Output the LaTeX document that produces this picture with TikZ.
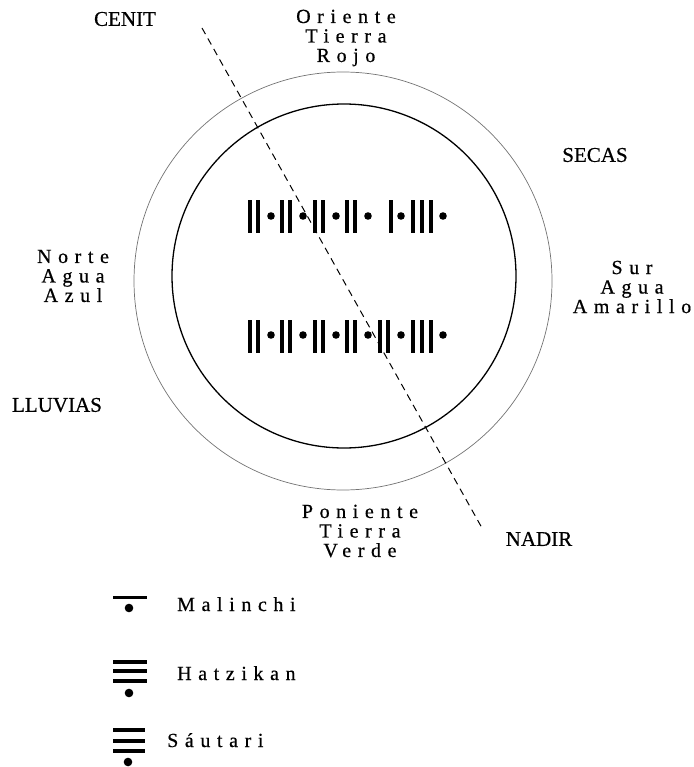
\documentclass[tikz,border=0pt]{standalone}
\usepackage{fontspec}
\setmainfont{Liberation Serif}[FakeBold=0.6]
\newfontfamily\spaced[LetterSpace=33,FakeBold=0.6]{Liberation Serif}
\begin{document}
\begin{tikzpicture}[x=1pt,y=-1pt,
  caplabel/.style={font=\fontsize{21}{22}\selectfont, inner sep=0pt},
  sptext/.style={font=\spaced\fontsize{20}{19.5}\selectfont, align=center, inner sep=0pt},
  legtext/.style={font=\spaced\fontsize{20}{19.5}\selectfont, anchor=base west, inner sep=0pt},
  outerring/.style={draw=black!55, line width=0.7pt},
  innerring/.style={draw=black, line width=1.3pt},
  axis/.style={draw=black, line width=1pt, dash pattern=on 7pt off 5pt}]
\useasboundingbox (0,0) rectangle (693,767);

% rings
\draw[outerring] (343,281) circle (209);
\draw[innerring] (344,276) circle (172);

% axis
\coordinate (ctop) at (202,28);
\coordinate (cbot) at (482,528);
\draw[axis] (ctop) -- (cbot);

% labels
\node[caplabel] (cenit) at (125,19) {CENIT};
\node[caplabel] (nadir) at (539,539) {NADIR};
\node[caplabel] (secas) at (595,155) {SECAS};
\node[caplabel] (lluvias) at (57,405) {LLUVIAS};

\node[sptext] (oriente) at (346,38) {Oriente\\Tierra\\Rojo};
\node[sptext] (norte) at (73,276) {Norte\\Agua\\Azul};
\node[sptext] (sur) at (632,287) {Sur\\Agua\\Amarillo};
\node[sptext] (poniente) at (360,531) {Poniente\\Tierra\\Verde};

% row 1
\foreach \x in {250,258,282,290,315,323,347,355,391,413,422,431}
  \fill (\x-2.2,200) rectangle (\x+2.2,233);
\foreach \x in {271,303,336,368,401,443}
  \fill (\x,216) circle (3.8);
% row 2
\foreach \x in {250,258,282,290,315,323,347,355,380,388,413,422,431}
  \fill (\x-2.2,320) rectangle (\x+2.2,353);
\foreach \x in {271,303,336,368,401,443}
  \fill (\x,335) circle (3.8);

% legend
\fill (113,595.5) rectangle (147,598.8);
\fill (129,608) circle (4.3);
\node[legtext] (malinchi) at (177,611) {Malinchi};

\foreach \y in {662,671,681}
  \fill (113,\y-1.6) rectangle (147,\y+1.6);
\fill (129,693) circle (4.3);
\node[legtext] (hatzikan) at (177,680) {Hatzikan};

\foreach \y in {730,741,751}
  \fill (113,\y-1.6) rectangle (145,\y+1.6);
\fill (128,762) circle (4.3);
\node[legtext] (sautari) at (167,747) {Sáutari};
\end{tikzpicture}
\end{document}
